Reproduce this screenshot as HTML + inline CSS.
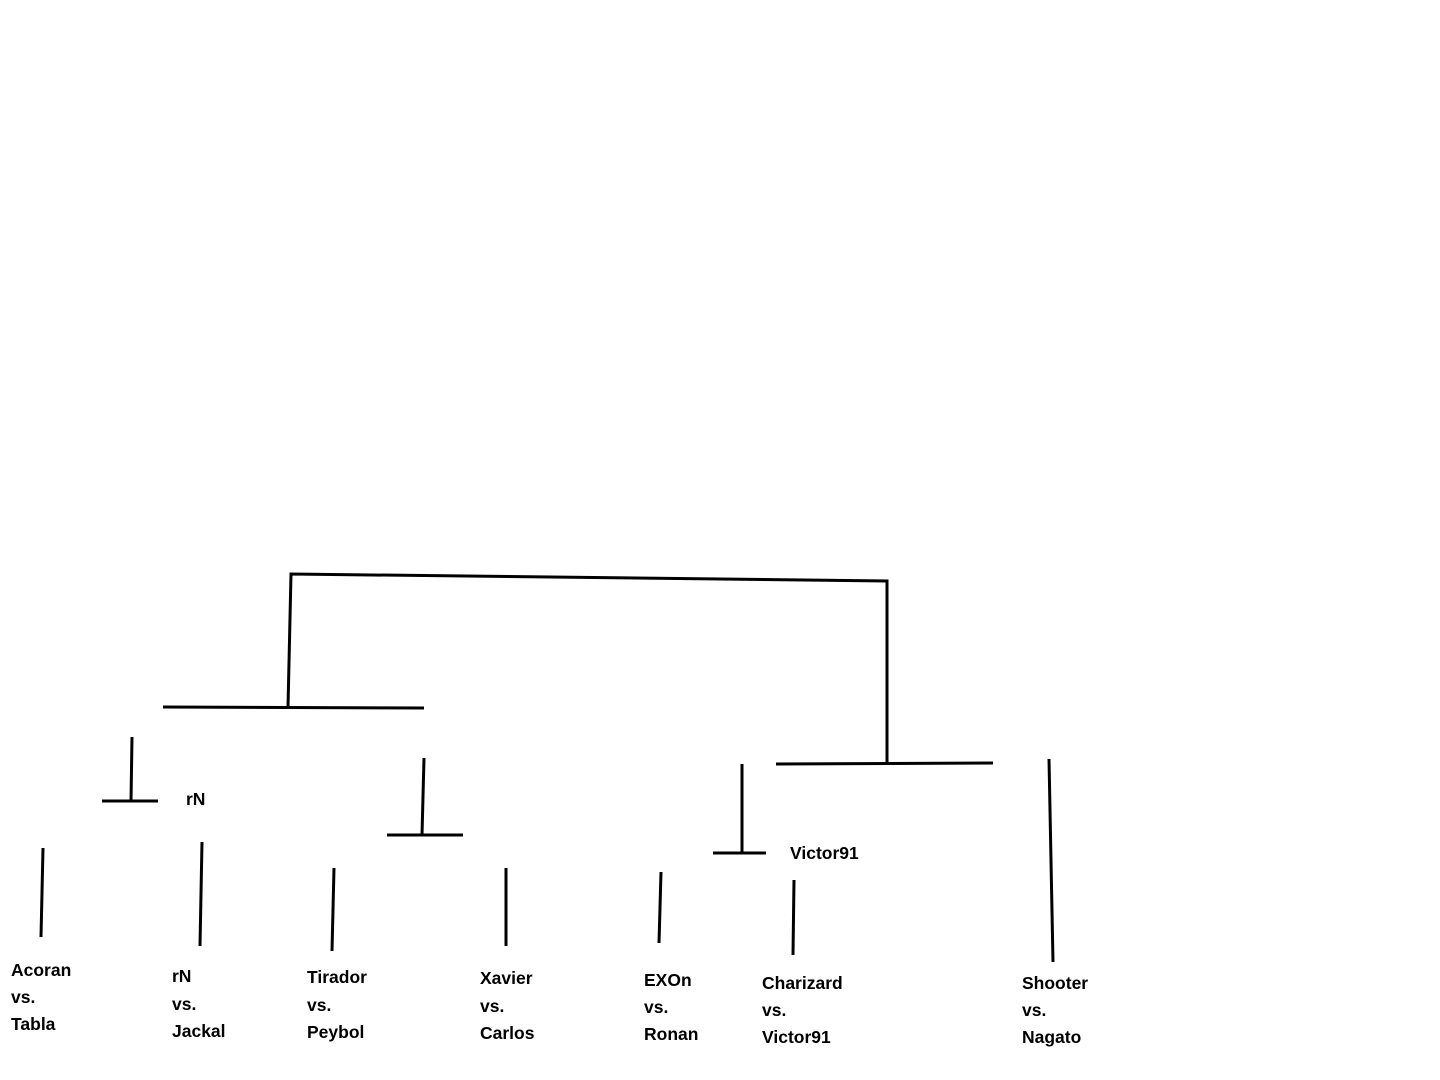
<!DOCTYPE html>
<html><head><meta charset="utf-8"><style>
html,body{margin:0;padding:0;background:#fff;}
svg{display:block;}
text{font-family:"Liberation Sans",sans-serif;font-weight:bold;font-size:17.5px;fill:#000;}
</style></head><body>
<svg width="1440" height="1080" viewBox="0 0 1440 1080" xmlns="http://www.w3.org/2000/svg">
<g stroke="#000" stroke-width="3" fill="none">
<polyline points="288,707 291,574 887,581 887,763"/>
<line x1="163" y1="707" x2="424" y2="708"/>
<line x1="776" y1="764" x2="993" y2="763"/>
<line x1="132" y1="737" x2="131" y2="801"/>
<line x1="102" y1="801" x2="158" y2="801"/>
<line x1="424" y1="758" x2="422" y2="835"/>
<line x1="387" y1="835" x2="463" y2="835"/>
<line x1="742" y1="764" x2="742" y2="853"/>
<line x1="713" y1="853" x2="766" y2="853"/>
<line x1="43" y1="848" x2="41" y2="937"/>
<line x1="202" y1="842" x2="200" y2="946"/>
<line x1="334" y1="868" x2="332" y2="951"/>
<line x1="506" y1="868" x2="506" y2="946"/>
<line x1="661" y1="872" x2="659" y2="943"/>
<line x1="794" y1="880" x2="793" y2="955"/>
<line x1="1049" y1="759" x2="1053" y2="962"/>
</g>
<text x="186" y="805" font-size="16">rN</text>
<text x="790" y="859">Victor91</text>
<text x="11" y="976">Acoran</text><text x="11" y="1003">vs.</text><text x="11" y="1030">Tabla</text>
<text x="172" y="982">rN</text><text x="172" y="1010">vs.</text><text x="172" y="1037">Jackal</text>
<text x="307" y="983">Tirador</text><text x="307" y="1011">vs.</text><text x="307" y="1038">Peybol</text>
<text x="480" y="984">Xavier</text><text x="480" y="1012">vs.</text><text x="480" y="1039">Carlos</text>
<text x="644" y="986">EXOn</text><text x="644" y="1013">vs.</text><text x="644" y="1040">Ronan</text>
<text x="762" y="989">Charizard</text><text x="762" y="1016">vs.</text><text x="762" y="1043">Victor91</text>
<text x="1022" y="989">Shooter</text><text x="1022" y="1016">vs.</text><text x="1022" y="1043">Nagato</text>
</svg>
</body></html>
